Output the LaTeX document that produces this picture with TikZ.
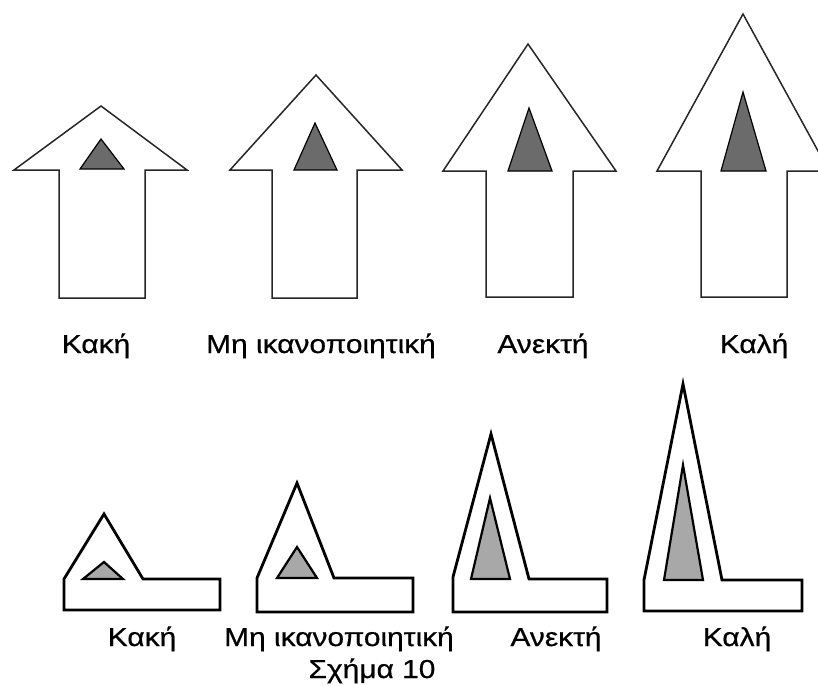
\documentclass[tikz,border=0pt]{standalone}
\usepackage{fontspec}
\setmainfont{Liberation Sans}[FakeStretch=1.15, FakeBold=0.6]
\usepackage{xcolor}
\usepackage{tikz}

\definecolor{darkfill}{gray}{0.42}
\definecolor{lightfill}{gray}{0.66}

\begin{document}
\begin{tikzpicture}[x=1pt, y=-1pt,
    bigarrow/.style={draw=black!85, line width=1.5pt, fill=white, line join=miter},
    darktri/.style={draw=black, line width=1.2pt, fill=darkfill},
    flatshape/.style={draw=black, line width=2.8pt, fill=white, line join=miter},
    lighttri/.style={draw=black, line width=2.2pt, fill=lightfill},
    label/.style={anchor=base, font=\fontsize{26}{30}\selectfont, inner sep=0pt}]
    \clip (0,0) rectangle (818,685);

    % Upper row: arrows
    \draw[bigarrow] (59,298) -- (59,170) -- (14,170) -- (101,106) -- (187,170) -- (145,170) -- (145,298) -- cycle;
    \draw[bigarrow] (272,298) -- (272,170) -- (230,170) -- (316,75) -- (402,170) -- (357,170) -- (357,298) -- cycle;
    \draw[bigarrow] (486,297) -- (486,171) -- (443,171) -- (528,44) -- (616,171) -- (573,171) -- (573,297) -- cycle;
    \draw[bigarrow] (701,297) -- (701,171) -- (657,171) -- (743,14) -- (829,171) -- (787,171) -- (787,297) -- cycle;

    % Upper row: inner triangles
    \draw[darktri] (80,169) -- (101,139) -- (124,169) -- cycle;
    \draw[darktri] (294,170) -- (315,123) -- (337,170) -- cycle;
    \draw[darktri] (508,171) -- (529,108) -- (552,171) -- cycle;
    \draw[darktri] (721,171) -- (743,92) -- (766,171) -- cycle;

    % Upper row: labels
    \node[label] (top1) at (96,353) {Κακή};
    \node[label] (top2) at (321,353) {Μη ικανοποιητική};
    \node[label] (top3) at (543,353) {Ανεκτή};
    \node[label] (top4) at (754,353) {Καλή};

    % Lower row: flat shapes
    \draw[flatshape] (64,610) -- (64,579) -- (104,514) -- (143,579) -- (220,579) -- (220,610) -- cycle;
    \draw[flatshape] (257,612) -- (257,578) -- (297,483) -- (334,578) -- (413,578) -- (413,612) -- cycle;
    \draw[flatshape] (453,612) -- (453,577) -- (491,434) -- (529,579) -- (607,579) -- (607,612) -- cycle;
    \draw[flatshape] (644,611) -- (644,580) -- (683,384) -- (722,580) -- (802,580) -- (802,611) -- cycle;

    % Lower row: inner triangles
    \draw[lighttri] (83,579) -- (104,562) -- (123,579) -- cycle;
    \draw[lighttri] (277,578) -- (297,547) -- (317,578) -- cycle;
    \draw[lighttri] (471,579) -- (490,498) -- (510,579) -- cycle;
    \draw[lighttri] (664,580) -- (683,465) -- (703,580) -- cycle;

    % Lower row: labels
    \node[label] (low1) at (142,646) {Κακή};
    \node[label] (low2) at (339,646) {Μη ικανοποιητική};
    \node[label] (low3) at (556,646) {Ανεκτή};
    \node[label] (low4) at (737,646) {Καλή};

    % Caption
    \node[label] (caption) at (372,678) {Σχήμα 10};
\end{tikzpicture}
\end{document}
